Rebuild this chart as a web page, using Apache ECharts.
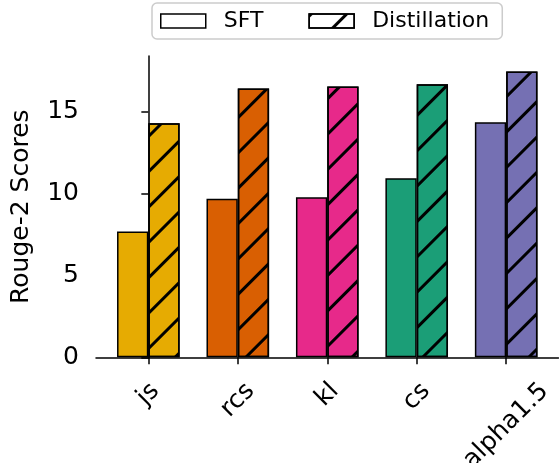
<!DOCTYPE html>
<html>
<head>
<meta charset="utf-8">
<script src="https://cdn.jsdelivr.net/npm/echarts@6/dist/echarts.min.js"></script>
<style>
html,body{margin:0;padding:0;background:#fff;}
#chart{width:559px;height:463px;}
</style>
</head>
<body>
<div id="chart"></div>
<script>
const categories = ['js', 'rcs', 'kl', 'cs', 'alpha1.5'];
const sftScores = [7.68, 9.69, 9.77, 10.94, 14.36];
const distillScores = [14.3, 16.42, 16.54, 16.68, 17.46];
const yTicks = [0, 5, 10, 15];
const barColors = ['#E6AB02', '#D95F02', '#E7298A', '#1B9E77', '#7570B3'];

const FONT = 'DejaVu Sans';
const TICK_FS = 25;
const hatch = {
  symbol: 'rect',
  symbolSize: 1,
  color: '#000',
  dashArrayX: [1, 0],
  dashArrayY: [3, 22],
  rotation: -Math.PI / 4
};

// measure label widths so rotated labels can be placed like matplotlib (bbox centred on tick)
const cv = document.createElement('canvas').getContext('2d');
cv.font = TICK_FS + 'px "' + FONT + '"';
const rich = {};
categories.forEach((c, i) => {
  const p = cv.measureText(c).width / 2;
  rich['l' + i] = { padding: [p, p, 0, 0], fontSize: TICK_FS, fontFamily: FONT, color: '#000' };
});

const idx = categories.map((c, i) => i);
const mk = (vals, withHatch) => vals.map((v, i) => {
  const st = { color: barColors[i], borderColor: '#000', borderWidth: 1.5 };
  if (withHatch) st.decal = hatch;
  return { value: [i, v], itemStyle: st };
});

const chart = echarts.init(document.getElementById('chart'), null, { renderer: 'canvas' });
chart.setOption({
  animation: false,
  backgroundColor: '#fff',
  textStyle: { fontFamily: FONT },
  grid: { left: 96, right: 0.5, top: 56, bottom: 105.7, containLabel: false, outerBoundsMode: 'none' },
  legend: {
    left: 152,
    top: 3,
    orient: 'horizontal',
    itemWidth: 45,
    itemHeight: 14,
    itemGap: 45,
    padding: [7, 13, 7, 8],
    borderColor: '#cccccc',
    borderWidth: 1.5,
    borderRadius: 5,
    textStyle: { fontSize: 22, fontFamily: FONT, color: '#000', padding: [0, 0, 0, 13] },
    data: [
      { name: 'SFT', icon: 'rect', itemStyle: { color: '#fff', borderColor: '#000', borderWidth: 1.5 } },
      { name: 'Distillation', icon: 'rect', itemStyle: { color: '#fff', borderColor: '#000', borderWidth: 1.5, decal: hatch } }
    ]
  },
  xAxis: {
    type: 'value',
    min: -0.585,
    max: categories.length - 1 + 0.585,
    splitLine: { show: false },
    axisLine: { show: true, onZero: false, lineStyle: { color: '#000', width: 1.5 } },
    axisTick: { show: true, customValues: idx, length: 7, lineStyle: { color: '#000', width: 1.5 } },
    axisLabel: {
      customValues: idx,
      rotate: 45,
      align: 'center',
      verticalAlign: 'middle',
      margin: 30,
      fontSize: TICK_FS,
      fontFamily: FONT,
      color: '#000',
      formatter: v => '{l' + v + '|' + categories[v] + '}',
      rich: rich
    }
  },
  yAxis: {
    type: 'value',
    min: 0,
    max: 18.4,
    interval: 5,
    name: 'Rouge-2 Scores',
    nameLocation: 'middle',
    nameGap: 62,
    nameRotate: 90,
    nameTextStyle: { fontSize: TICK_FS, fontFamily: FONT, color: '#000' },
    splitLine: { show: false },
    axisLine: { show: true, lineStyle: { color: '#000', width: 1.5 } },
    axisTick: { show: true, customValues: yTicks, length: 7, lineStyle: { color: '#000', width: 1.5 } },
    axisLabel: { customValues: yTicks, margin: 17, fontSize: TICK_FS, fontFamily: FONT, color: '#000' }
  },
  series: [
    { name: 'SFT', type: 'bar', barWidth: 31.3, barGap: '0%', data: mk(sftScores, false) },
    { name: 'Distillation', type: 'bar', barWidth: 31.3, barGap: '0%', data: mk(distillScores, true) }
  ]
});
</script>
</body>
</html>
